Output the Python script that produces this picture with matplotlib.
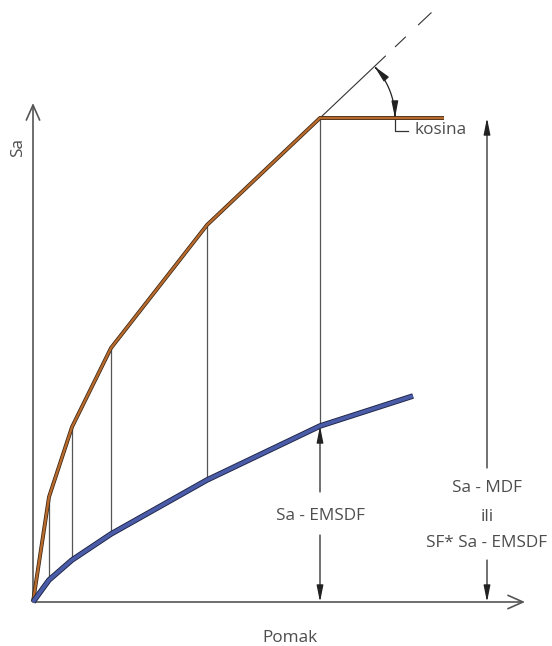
import numpy as np
import matplotlib
matplotlib.use("Agg")
import matplotlib.pyplot as plt
from matplotlib.patches import FancyArrowPatch
from matplotlib.path import Path
import matplotlib.patheffects as pe

# Data (arbitrary units)
pomak_points = [0.0, 1.6, 3.9, 7.8, 17.4, 28.7]
sa_mdf = [0.0, 10.5, 17.5, 25.4, 37.7, 48.4]
plateau_end = 41.1
pomak_emsdf = [0.0, 1.6, 3.9, 7.8, 17.4, 28.7, 38.0]
sa_emsdf = [0.0, 2.2, 4.2, 6.8, 12.2, 17.6, 20.6]
x_axis_end = 49.2
y_axis_end = 49.9
right_arrow_x = 45.4

label_x = "Pomak"
label_y = "Sa"
label_emsdf = "Sa - EMSDF"
label_right = ["Sa - MDF", "ili", "SF* Sa - EMSDF"]
label_kosina = "kosina"

plt.rcParams['font.family'] = ['Open Sans', 'DejaVu Sans']
TXT = '#4d4d4d'
LN = '#555555'
FS = 12.3

fig = plt.figure(figsize=(5.52, 6.46), dpi=100)
ax = fig.add_axes([0, 0, 1, 1])
ax.set_xlim(-3.3, 51.9)
ax.set_ylim(-4.4, 60.2)
ax.axis('off')

# axes arrows
ax.annotate('', xy=(x_axis_end, 0), xytext=(0, 0),
            arrowprops=dict(arrowstyle='->,head_length=0.9,head_width=0.4', color=LN, lw=1.2,
                            shrinkA=0, shrinkB=0, mutation_scale=12))
ax.annotate('', xy=(0, y_axis_end), xytext=(0, 0),
            arrowprops=dict(arrowstyle='->,head_length=0.9,head_width=0.4', color=LN, lw=1.2,
                            shrinkA=0, shrinkB=0, mutation_scale=12))

# vertical connectors
for xv, ytop, ybot in zip(pomak_points[1:5], sa_mdf[1:5], sa_emsdf[1:5]):
    ax.plot([xv, xv], [ybot, ytop], color=LN, lw=0.9, zorder=2)
ax.plot([pomak_points[5]] * 2, [sa_emsdf[5], sa_mdf[5]], color=LN, lw=0.9, zorder=2)

# dashed extension of last segment
dx = pomak_points[5] - pomak_points[4]
dy = sa_mdf[5] - sa_mdf[4]
ang = np.arctan2(dy, dx)
L = 15.5
ext, = ax.plot([pomak_points[5], pomak_points[5] + L * np.cos(ang)],
               [sa_mdf[5], sa_mdf[5] + L * np.sin(ang)], color='#333333', lw=0.8, zorder=2)
lw_ = 0.8
ext.set_dashes([65.2 / lw_, 9.2 / lw_, 10.7 / lw_, 12.2 / lw_, 13.2 / lw_, 60 / lw_])

arrow_style = '-|>,head_length=1.0,head_width=0.2'

# angle arc
r = 7.5
th = np.linspace(ang, 0, 40)
arc_pts = np.column_stack([pomak_points[5] + r * np.cos(th), sa_mdf[5] + r * np.sin(th)])
arc = FancyArrowPatch(path=Path(arc_pts), arrowstyle='<|-|>,head_length=1.0,head_width=0.2',
                      mutation_scale=10, color='#222222', lw=0.9, zorder=4)
ax.add_patch(arc)
ex = pomak_points[5] + r
ax.plot([ex, ex, ex + 1.3], [sa_mdf[5], sa_mdf[5] - 1.3, sa_mdf[5] - 1.3], color='#333333', lw=0.9)
ax.text(ex + 1.9, sa_mdf[5] - 1.2, label_kosina, color=TXT, fontsize=FS, va='center', ha='left')

# curves
ax.plot(pomak_points + [plateau_end], sa_mdf + [sa_mdf[-1]], color='#b86a2c', lw=1.7,
        solid_capstyle='butt', zorder=5,
        path_effects=[pe.Stroke(linewidth=2.8, foreground='#3b2614'), pe.Normal()])
ax.plot(pomak_emsdf, sa_emsdf, color='#4a5ca8', lw=2.7, solid_capstyle='butt', zorder=5,
        path_effects=[pe.Stroke(linewidth=4.0, foreground='#1e2445'), pe.Normal()])

arrow_kw = dict(arrowstyle=arrow_style, color='#222222', lw=0.9,
                shrinkA=0, shrinkB=0, mutation_scale=10)

# Sa - EMSDF dimension
xe = pomak_emsdf[5]
ax.annotate('', xy=(xe, sa_emsdf[5]), xytext=(xe, 11.0), arrowprops=arrow_kw, zorder=6)
ax.annotate('', xy=(xe, 0), xytext=(xe, 6.7), arrowprops=arrow_kw)
ax.text(xe, 8.6, label_emsdf, color=TXT, fontsize=FS, ha='center', va='center')

# right dimension
ax.annotate('', xy=(right_arrow_x, sa_mdf[5]), xytext=(right_arrow_x, 13.4), arrowprops=arrow_kw)
ax.annotate('', xy=(right_arrow_x, 0), xytext=(right_arrow_x, 4.2), arrowprops=arrow_kw)
for yt, t in zip([11.4, 8.5, 5.9], label_right):
    ax.text(right_arrow_x, yt, t, color=TXT, fontsize=FS, ha='center', va='center')

# axis labels
ax.text(25.7, -3.6, label_x, color=TXT, fontsize=FS, ha='center', va='center')
ax.text(-1.5, 45.5, label_y, color=TXT, fontsize=FS, ha='center', va='center', rotation=90)

fig.savefig('out.png', dpi=100)
